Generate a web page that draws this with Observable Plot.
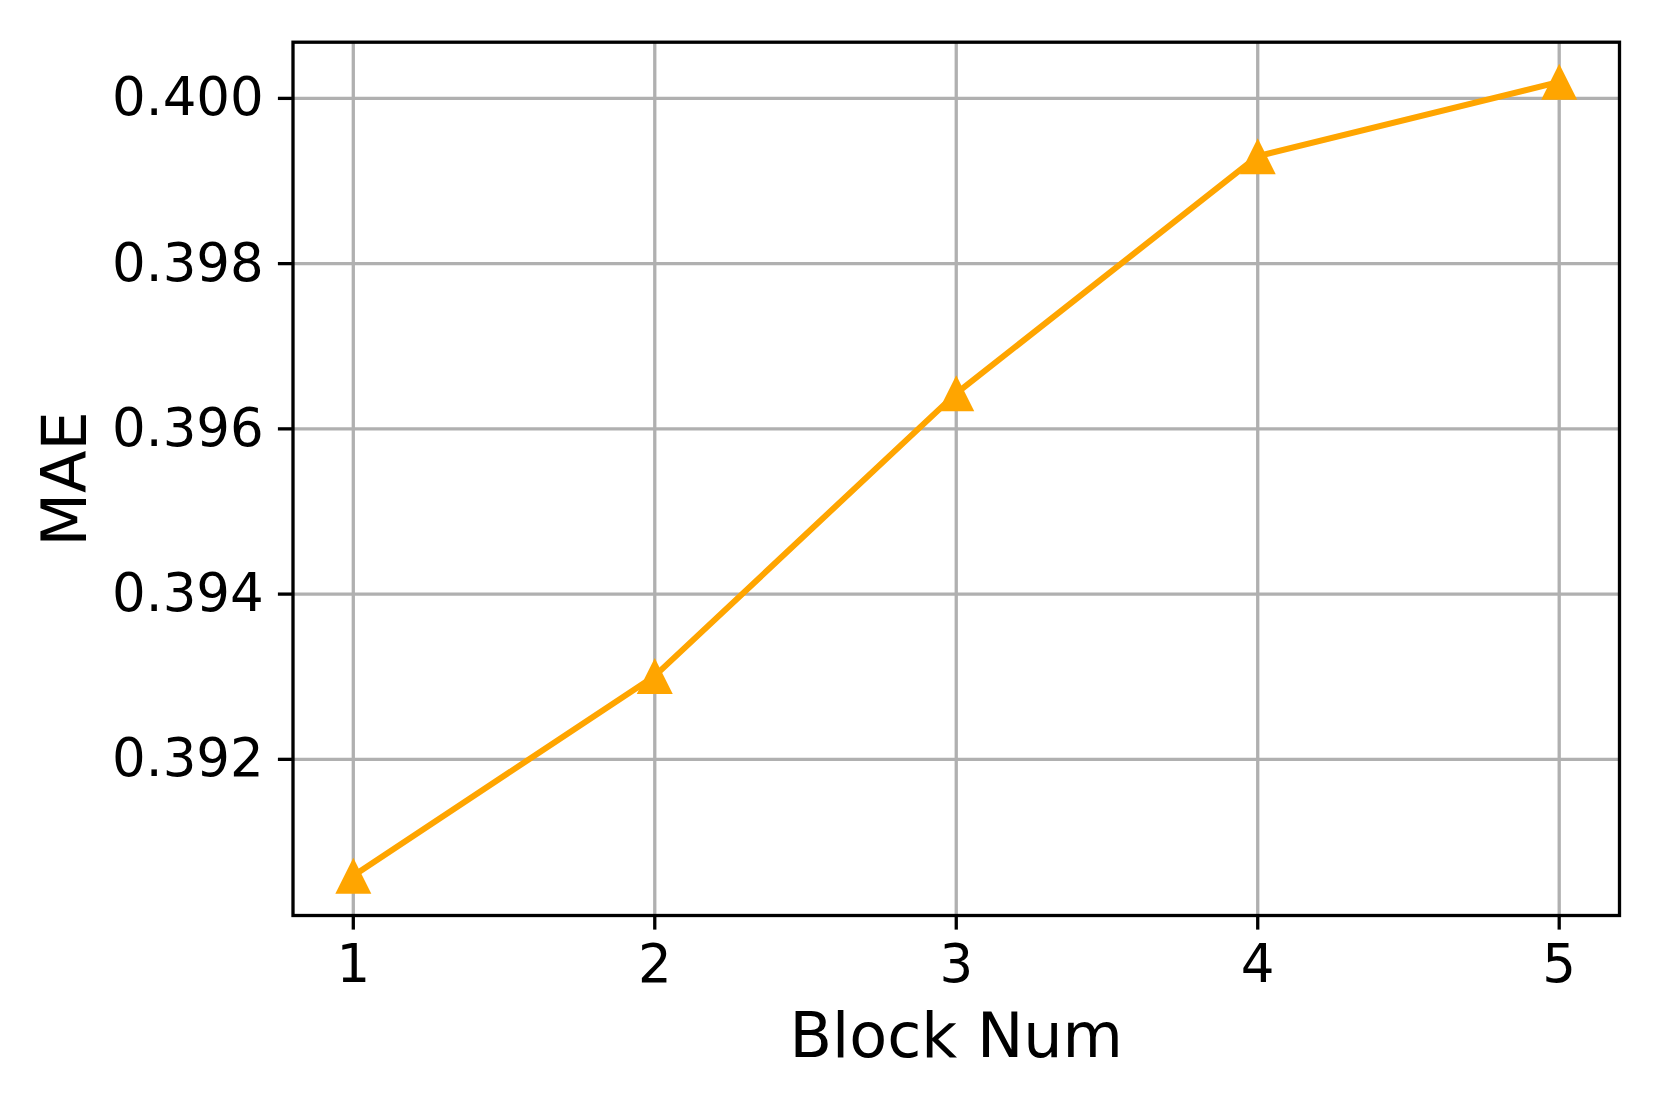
<!DOCTYPE html>
<html>
<head>
<meta charset="utf-8">
<script src="https://cdn.jsdelivr.net/npm/d3@7"></script>
<script src="https://cdn.jsdelivr.net/npm/@observablehq/plot@0.6"></script>
<style>
  html, body { margin: 0; padding: 0; background: white; }
  svg { display: block; }
</style>
</head>
<body>
<div id="chart"></div>
<script>
const blockNum = [1, 2, 3, 4, 5];
const mae = [0.39059, 0.39301, 0.39643, 0.39930, 0.40020];
const xTicks = [1, 2, 3, 4, 5];
const yTicks = [0.392, 0.394, 0.396, 0.398, 0.400];
const xLabel = "Block Num";
const yLabel = "MAE";

const data = blockNum.map((b, i) => ({b, v: mae[i]}));

// matplotlib-style "^" marker: bbox centred on the point, width == height
const triangleUp = {
  draw(context, size) {
    const h = Math.sqrt(size / Math.PI);
    context.moveTo(0, -h);
    context.lineTo(h, h);
    context.lineTo(-h, h);
    context.closePath();
  }
};

const font = "DejaVu Sans";
const chart = Plot.plot({
  width: 1661,
  height: 1107,
  marginLeft: 292.5,
  marginRight: 42,
  marginTop: 41.7,
  marginBottom: 192,
  style: {fontFamily: font, background: "white", color: "black"},
  x: {domain: [0.8, 5.2]},
  y: {domain: [0.39011, 0.40068]},
  marks: [
    Plot.gridX(xTicks, {stroke: "#b0b0b0", strokeOpacity: 1, strokeWidth: 3.3}),
    Plot.gridY(yTicks, {stroke: "#b0b0b0", strokeOpacity: 1, strokeWidth: 3.3}),
    Plot.line(data, {x: "b", y: "v", stroke: "#FFA500", strokeWidth: 6}),
    Plot.dot(data, {x: "b", y: "v", symbol: triangleUp, r: 18, fill: "#FFA500", stroke: "none"}),
    Plot.frame({stroke: "black", strokeWidth: 3.3}),
    Plot.axisX(xTicks, {tickSize: 14.6, tickPadding: 14.6, fontSize: 53, strokeWidth: 3.3, tickFormat: d => String(d), label: null, fill: "black"}),
    Plot.axisY(yTicks, {tickSize: 14.6, tickPadding: 14.6, fontSize: 53, strokeWidth: 3.3, tickFormat: d3.format(".3f"), label: null, fill: "black"}),
    Plot.text([xLabel], {frameAnchor: "bottom", dy: 141, lineAnchor: "bottom", textAnchor: "middle", fontSize: 62, fill: "black"}),
    Plot.text([yLabel], {frameAnchor: "left", dx: -207.5, rotate: -90, lineAnchor: "bottom", textAnchor: "middle", fontSize: 62, fill: "black"})
  ]
});
document.getElementById("chart").appendChild(chart);
</script>
</body>
</html>
